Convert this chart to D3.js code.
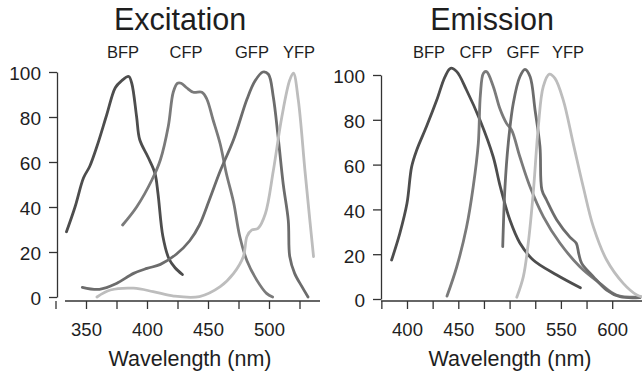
<!DOCTYPE html>
<html>
<head>
<meta charset="utf-8">
<script src="https://cdn.jsdelivr.net/npm/d3@7"></script>
<style>
  html, body { margin: 0; padding: 0; background: #fff; }
  svg { display: block; }
  text { font-family: "Liberation Sans", Arial, Helvetica, sans-serif; fill: #1e1e1e; }
</style>
</head>
<body>
<svg id="chart" width="642" height="373"></svg>
<script>
// Fluorescent protein spectra: [wavelength nm, relative intensity %]
const proteins = ["BFP", "CFP", "GFP", "YFP"];
const emissionLabels = ["BFP", "CFP", "GFF", "YFP"];

const bfpExcitation = [[334,29],[341,40],[348,53],[353,58],[359,67],[367,81],[374,93],[379,96],[385,98],[387.5,95],[391.5,80],[394,70],[401,62],[406.5,55],[409,46],[413,27],[418,17],[423,13],[429,10]];
const cfpExcitation = [[380,32],[391.5,40],[404,52],[411,61],[417.5,76],[421.5,91],[425,95],[428,95],[432.5,93],[438,91],[445,91],[449,88],[454,79],[460,68],[465,55],[471,42],[476,27],[482,16],[490,7.5],[498,1.6],[503,0]];
const gfpExcitation = [[347,4.3],[361,3.4],[375,6],[389,10.5],[400,12.7],[411,14.5],[424,19],[435,25],[443,32],[451,43],[460,56],[471,70],[482,88],[488.5,96],[495,100],[499.5,99],[503.5,89],[507.5,71],[511.7,50],[515.8,34],[517,18],[521,10.5],[527,4.6],[532,0]];
const yfpExcitation = [[359,0],[370,3.1],[389,3.9],[405,2.4],[422,0.4],[443,0.2],[460,4.6],[471,10.5],[479,18],[482,27],[486,29.8],[491,30.5],[497,37],[503.5,56],[510.5,80],[517,96.4],[520,99.5],[524,87.6],[529.5,56],[533.5,34],[536.5,18]];

const bfpEmission = [[385,17.4],[393,29.3],[400,42.7],[404.5,59],[409.5,66.5],[419,77],[429,88.8],[437,99.2],[442.5,103],[448.5,101.5],[458,93.3],[471,80],[484,63.5],[491,50],[500.5,35],[510,25],[523,17.4],[546,10.7],[569,5]];
const cfpEmission = [[439,1.3],[448.5,14.4],[458,32],[464.5,50],[469.5,69.5],[471.5,91],[474.5,100.8],[477.5,101.5],[484,95],[490.5,85],[497,78.4],[502,75.4],[510,63.5],[520,50],[533,36.7],[549,25],[568.5,14.4],[588,7],[604,1.8],[627,0.8]];
const gfpEmission = [[493.3,23.4],[495.5,50],[498.7,69.5],[503.6,87.4],[510,99.2],[515,102.5],[520,99.2],[524.8,84.4],[529.6,68],[531.5,48.7],[536,44.2],[546,35.3],[559,27.5],[565,24.9],[567.5,20],[570.3,15.9],[581.6,10],[594.6,4],[607.6,1],[627,0.6]];
const yfpEmission = [[507,0.8],[513.4,10],[518.2,25],[523,47.2],[528,77],[532.8,94.8],[538.7,100.4],[544.2,98.5],[552.3,88.8],[562,69.5],[571.8,50],[581.6,32.3],[594.6,17.4],[610.8,7],[624,1.8],[629,1]];

const excitationSeries = [bfpExcitation, cfpExcitation, gfpExcitation, yfpExcitation];
const emissionSeries = [bfpEmission, cfpEmission, gfpEmission, yfpEmission];

const yTicks = [0, 20, 40, 60, 80, 100];
const excitationXTicks = [325, 350, 375, 400, 425, 450, 475, 500, 525];
const excitationXLabels = [350, 400, 450, 500];
const emissionXTicks = [375, 400, 425, 450, 475, 500, 525, 550, 575, 600];
const emissionXLabels = [400, 450, 500, 550, 600];

const lineColors = ["#4d4d4d", "#7a7a7a", "#6c6c6c", "#bdbdbd"];

const svg = d3.select("#chart");

function panel(cfg) {
  const x = d3.scaleLinear().domain(cfg.xDomain).range(cfg.xRange);
  const y = d3.scaleLinear().domain([0, 100]).range(cfg.yRange);
  const g = svg.append("g");

  // title and protein labels
  g.append("text").attr("x", cfg.titleX).attr("y", 30)
    .attr("text-anchor", "middle").attr("font-size", 30.5).text(cfg.title);
  cfg.labels.forEach((t, i) => {
    g.append("text").attr("x", cfg.labelX[i]).attr("y", 58)
      .attr("text-anchor", "middle").attr("font-size", 16.5).text(t);
  });

  // y axis
  const yAxis = g.append("g").attr("transform", `translate(${cfg.yAxisX},0)`)
    .call(d3.axisLeft(y).tickValues(yTicks).tickSize(8).tickSizeOuter(0).tickPadding(8));
  yAxis.select(".domain").attr("stroke", "#333").attr("stroke-width", 1.3);
  yAxis.selectAll(".tick line").attr("stroke", "#333").attr("stroke-width", 1.3);
  yAxis.selectAll(".tick text").attr("font-size", 19).attr("fill", "#1e1e1e")
    .attr("font-family", "Liberation Sans, Arial, sans-serif").attr("dy", "0.42em");

  // x axis
  const xAxis = g.append("g").attr("transform", `translate(0,${cfg.xAxisY})`)
    .call(d3.axisBottom(x).tickValues(cfg.xTicks).tickSize(8).tickSizeOuter(0).tickPadding(14)
      .tickFormat(d => cfg.xLabels.includes(d) ? d : ""));
  xAxis.select(".domain").remove();
  xAxis.append("line").attr("x1", cfg.xLine[0]).attr("x2", cfg.xLine[1])
    .attr("stroke", "#333").attr("stroke-width", 1.3);
  xAxis.selectAll(".tick line").attr("stroke", "#333").attr("stroke-width", 1.3);
  xAxis.selectAll(".tick text").attr("font-size", 18.5).attr("fill", "#1e1e1e")
    .attr("font-family", "Liberation Sans, Arial, sans-serif");

  g.append("text").attr("x", cfg.xTitleX).attr("y", 366)
    .attr("text-anchor", "middle").attr("font-size", 21.5).text("Wavelength (nm)");

  // spectra
  const line = d3.line().x(d => x(d[0])).y(d => y(d[1])).curve(d3.curveCatmullRom.alpha(0.5));
  cfg.series.forEach((s, i) => {
    g.append("path").datum(s).attr("d", line)
      .attr("fill", "none").attr("stroke", lineColors[i])
      .attr("stroke-width", 2.8).attr("stroke-linejoin", "round").attr("stroke-linecap", "round");
  });
}

panel({
  title: "Excitation", titleX: 180,
  labels: proteins, labelX: [123, 186, 252, 299],
  xDomain: [350, 500], xRange: [86, 269],
  yRange: [297, 72], yAxisX: 57, xAxisY: 301, xLine: [65, 320],
  xTicks: excitationXTicks, xLabels: excitationXLabels, xTitleX: 190,
  series: excitationSeries
});

panel({
  title: "Emission", titleX: 492,
  labels: emissionLabels, labelX: [429, 476, 523, 568],
  xDomain: [400, 600], xRange: [407, 612.2],
  yRange: [299, 75], yAxisX: 381, xAxisY: 301, xLine: [381, 642],
  xTicks: emissionXTicks, xLabels: emissionXLabels, xTitleX: 510,
  series: emissionSeries
});
</script>
</body>
</html>
